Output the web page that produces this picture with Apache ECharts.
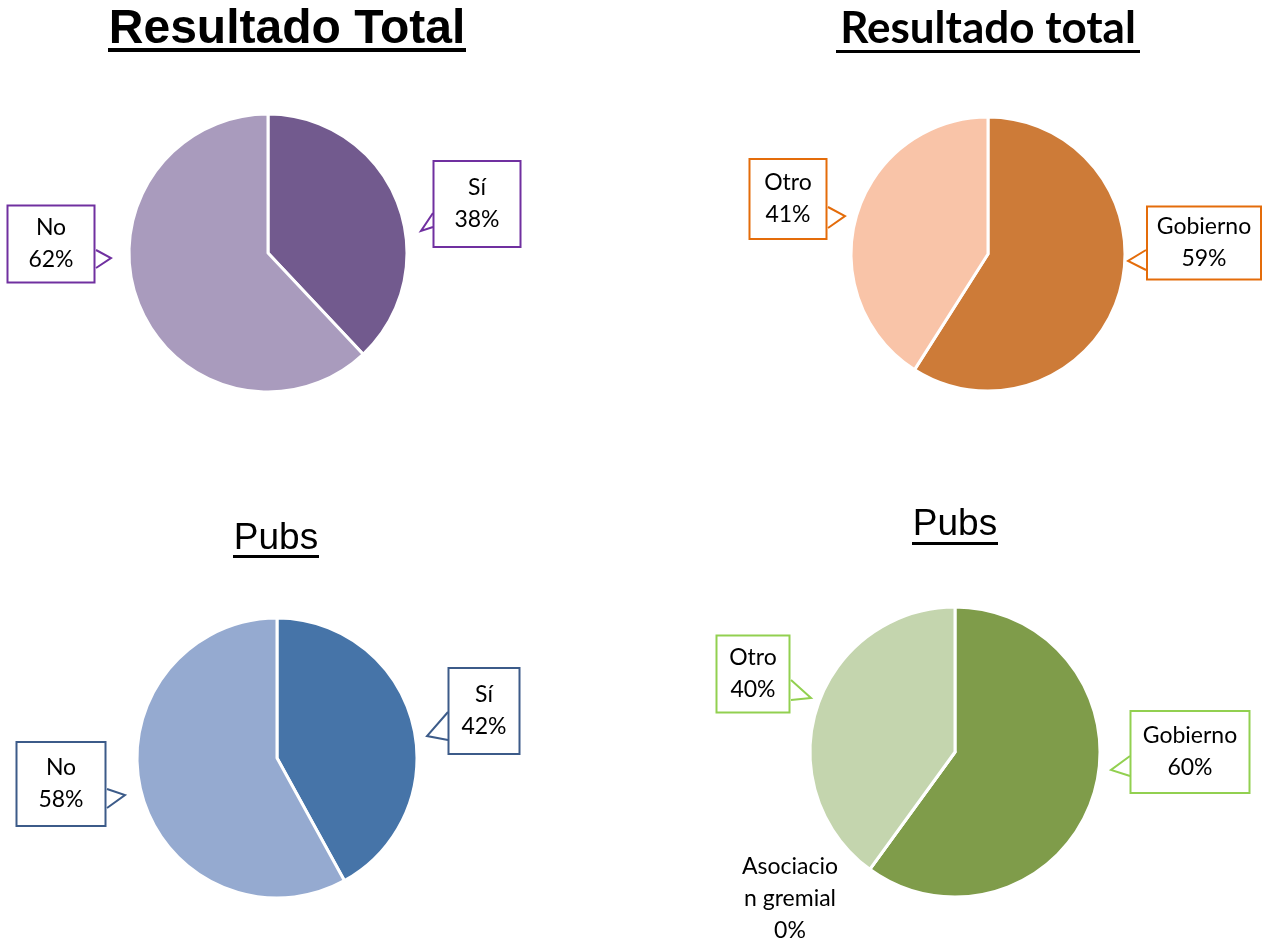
<!DOCTYPE html>
<html>
<head>
<meta charset="utf-8">
<script src="https://cdn.jsdelivr.net/npm/echarts@6/dist/echarts.min.js"></script>
<style>
html,body{margin:0;padding:0;background:#fff;}
#chart{width:1268px;height:944px;}
</style>
</head>
<body>
<div id="chart"></div>
<script>
// ---- Data ----
const titles = ['Resultado Total', 'Resultado total', 'Pubs', 'Pubs'];

const cats1 = ['Sí', 'No'];
const vals1 = [38, 62];

const cats2 = ['Gobierno', 'Otro'];
const vals2 = [59, 41];

const cats3 = ['Sí', 'No'];
const vals3 = [42, 58];

const cats4 = ['Gobierno', 'Asociacion gremial', 'Otro'];
const labels4 = ['Gobierno', 'Asociacio\nn gremial', 'Otro'];
const vals4 = [60, 0, 40];

// ---- Styles ----
const colors1 = ['#725A8E', '#A99BBD'];
const colors2 = ['#CD7B38', '#F9C4A8'];
const colors3 = ['#4674A8', '#95AAD0'];
const colors4 = ['#7F9C4A', '#9BBB59', '#C4D5AE'];
const boxColors = ['#7030A0', '#E46C0A', '#3C5B89', '#92D050'];

// callout placements (label box centre, box size, pointer polyline)
const callouts = {
  '0-0': {cx: 477, cy: 204, w: 89, h: 88, ptr: [[433, 213], [421, 231], [433, 227]]},
  '0-1': {cx: 51, cy: 244, w: 89, h: 79, ptr: [[96, 250], [111, 258], [96, 268]]},
  '1-0': {cx: 1204, cy: 243, w: 116, h: 75, ptr: [[1146, 250], [1128, 261], [1146, 270]]},
  '1-1': {cx: 788, cy: 199, w: 79, h: 82, ptr: [[828, 207], [845, 216], [828, 228]]},
  '2-0': {cx: 484, cy: 711, w: 73, h: 88, ptr: [[448, 712], [427, 736], [448, 740]]},
  '2-1': {cx: 61, cy: 784, w: 91, h: 86, ptr: [[107, 789], [125, 795], [107, 808]]},
  '3-0': {cx: 1190, cy: 752, w: 121, h: 84, ptr: [[1130, 756], [1111, 770], [1130, 776]]},
  '3-1': {cx: 790, cy: 899, w: 0, h: 0, ptr: null},
  '3-2': {cx: 753, cy: 674, w: 75, h: 79, ptr: [[791, 680], [811, 698], [791, 700]]}
};

const LH = 32;
const labelFont = 'Lato, "Open Sans", sans-serif';

function buildData(cats, vals, colors, si, dispLabels) {
  return cats.map((c, i) => {
    const co = callouts[si + '-' + i];
    const boxed = co.w > 0;
    const pv = boxed ? Math.max(0, (co.h - 2 * LH - 4) / 2) : 0;
    return {
      name: c,
      value: vals[i],
      itemStyle: {color: colors[i]},
      label: {
        formatter: (dispLabels ? dispLabels[i] : c) + '\n' + vals[i] + '%',
        width: boxed ? co.w - 4 : 120,
        backgroundColor: boxed ? '#ffffff' : 'transparent',
        borderColor: boxed ? boxColors[si] : 'transparent',
        borderWidth: boxed ? 2 : 0,
        padding: [pv, 0, pv, 0]
      },
      labelLine: {show: boxed}
    };
  });
}

function pieSeries(si, center, radius, data) {
  return {
    type: 'pie',
    center: center,
    radius: radius,
    startAngle: 90,
    clockwise: true,
    animation: false,
    data: data,
    itemStyle: {borderColor: '#ffffff', borderWidth: 3},
    label: {
      show: true,
      position: 'outside',
      color: '#000000',
      fontFamily: labelFont,
      fontSize: 23,
      lineHeight: LH,
      align: 'center'
    },
    labelLine: {
      show: true,
      length: 10,
      length2: 10,
      smooth: false,
      lineStyle: {color: boxColors[si], width: 2}
    },
    emphasis: {disabled: true},
    labelLayout: function (params) {
      const co = callouts[si + '-' + params.dataIndex];
      const out = {x: co.cx, y: co.cy, align: 'center', verticalAlign: 'middle', hideOverlap: false, moveOverlap: false};
      if (co.ptr) out.labelLinePoints = co.ptr;
      return out;
    }
  };
}

const chart = echarts.init(document.getElementById('chart'), null, {renderer: 'canvas'});

const option = {
  backgroundColor: '#ffffff',
  title: [
    {text: titles[0], left: 287, top: 6, textAlign: 'center', padding: 0,
     textStyle: {fontFamily: '"Liberation Sans", Arial, sans-serif', fontWeight: 'bold', fontSize: 48, color: '#000'}},
    {text: titles[1], left: 988, top: 7, textAlign: 'center', padding: 0,
     textStyle: {fontFamily: 'Lato, sans-serif', fontWeight: 'bold', fontSize: 44, color: '#000'}},
    {text: titles[2], left: 276, top: 520, textAlign: 'center', padding: 0,
     textStyle: {fontFamily: '"Liberation Sans", Arial, sans-serif', fontWeight: 'normal', fontSize: 37, color: '#000'}},
    {text: titles[3], left: 955, top: 506, textAlign: 'center', padding: 0,
     textStyle: {fontFamily: '"Liberation Sans", Arial, sans-serif', fontWeight: 'normal', fontSize: 37, color: '#000'}}
  ],
  graphic: [
    {type: 'rect', shape: {x: 108, y: 48, width: 358, height: 4}, style: {fill: '#000'}},
    {type: 'rect', shape: {x: 836, y: 50, width: 304, height: 3}, style: {fill: '#000'}},
    {type: 'rect', shape: {x: 233, y: 555, width: 86, height: 3}, style: {fill: '#000'}},
    {type: 'rect', shape: {x: 912, y: 542, width: 86, height: 3}, style: {fill: '#000'}}
  ],
  series: [
    pieSeries(0, [268, 253], 139, buildData(cats1, vals1, colors1, 0)),
    pieSeries(1, [988, 254], 137, buildData(cats2, vals2, colors2, 1)),
    pieSeries(2, [277, 758], 140, buildData(cats3, vals3, colors3, 2)),
    pieSeries(3, [955, 752], 145, buildData(cats4, vals4, colors4, 3, labels4))
  ]
};

chart.setOption(option);
</script>
</body>
</html>
